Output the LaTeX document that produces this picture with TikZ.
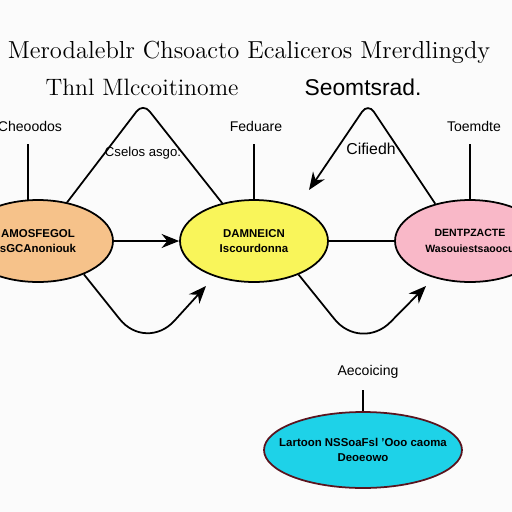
\documentclass[tikz,border=0pt]{standalone}
\usepackage{fontspec}
\setsansfont{Liberation Sans}
\usepackage{tikz}
\usetikzlibrary{shapes.geometric, arrows.meta, positioning}
\definecolor{paperwhite}{RGB}{251, 251, 251}
\definecolor{stageorange}{RGB}{246, 194, 138}
\definecolor{stageyellow}{RGB}{249, 245, 90}
\definecolor{stagepink}{RGB}{249, 184, 200}
\definecolor{stagecyan}{RGB}{30, 210, 232}
\definecolor{rimred}{RGB}{90, 20, 30}

\begin{document}
\begin{tikzpicture}[
    x=0.02cm, y=-0.02cm,
    stage/.style={ellipse, draw=black, line width=1pt, inner sep=0pt, minimum width=3cm, minimum height=1.64cm, align=center, font=\sffamily\bfseries\fontsize{6.5}{9}\selectfont},
    tag/.style={font=\sffamily\fontsize{8}{10}\selectfont},
    heading/.style={font=\fontsize{14}{16}\selectfont},
    link/.style={line width=1pt},
    flow/.style={->, >={Stealth[length=10pt,width=8pt]}, line width=1pt}
]
\fill[paperwhite] (0,0) rectangle (512,512);
\clip (0,0) rectangle (512,512);

% Headings
\node[heading] (title) at (249,52) {Merodaleblr Chsoacto Ecaliceros Mrerdlingdy};
\node[heading, font=\fontsize{13.5}{16}\selectfont] (subL) at (142,87) {Thnl Mlccoitinome};
\node[heading, font=\sffamily\fontsize{13}{16}\selectfont] (subR) at (363,87) {Seomtsrad.};

% Stages
\node[stage, fill=stageorange] (left) at (38,241) {AMOSFEGOL\\sGCAnoniouk};
\node[stage, fill=stageyellow, minimum width=2.96cm] (mid) at (254,241) {DAMNEICN\\Iscourdonna};
\node[stage, fill=stagepink, font=\sffamily\bfseries\fontsize{6}{9}\selectfont] (right) at (470,241) {DENTPZACTE\\Wasouiestsaoocu};
\node[stage, fill=stagecyan, draw=rimred, inner xsep=-0.35cm, minimum width=3.96cm, minimum height=1.52cm] (base) at (363,450) {Lartoon NSSoaFsl 'Ooo caoma\\Deoeowo};

% Tags above the stages
\node[tag] (tagL) at (30,126) {Cheoodos};
\node[tag] (tagM) at (256,126) {Feduare};
\node[tag] (tagR) at (474,126) {Toemdte};
\node[tag] (tagB) at (368,372) {Aecoicing};
\coordinate (footL) at (28,200);
\draw[link] ([yshift=-4pt]tagL.south -| footL) -- (footL);
\draw[link] ([yshift=-4pt]tagM.south -| mid.north) -- (mid.north);
\draw[link] ([yshift=-4pt]tagR.south -| right.north) -- (right.north);
\draw[link] ([yshift=-3pt]tagB.south -| base.north) -- (base.north);

% Straight links
\draw[flow] (left) -- (mid);
\draw[link] (mid) -- (right);

% Upper loops
\coordinate (apexA) at (143,103);
\coordinate (apexB) at (368,103);
\coordinate (tipB) at (309,190);
\draw[link, rounded corners=6pt] (left.53) -- (apexA) -- (mid.130);
\draw[flow, rounded corners=6pt] (right.133) -- (apexB) -- (tipB);
\node[tag, font=\sffamily\fontsize{7.5}{9}\selectfont] (noteA) at (143,153) {Cselos asgo:};
\node[tag, font=\sffamily\fontsize{9}{11}\selectfont] (noteB) at (371,149) {Cifiedh};

% Lower loops
\coordinate (bottomA) at (146,352);
\coordinate (bottomB) at (361,352);
\coordinate (tipA) at (206,286);
\coordinate (tipC) at (426,286);
\draw[flow, rounded corners=24pt] (left.-36) -- (bottomA) -- (tipA);
\draw[flow, rounded corners=24pt] (mid.-37) -- (bottomB) -- (tipC);
\end{tikzpicture}
\end{document}
